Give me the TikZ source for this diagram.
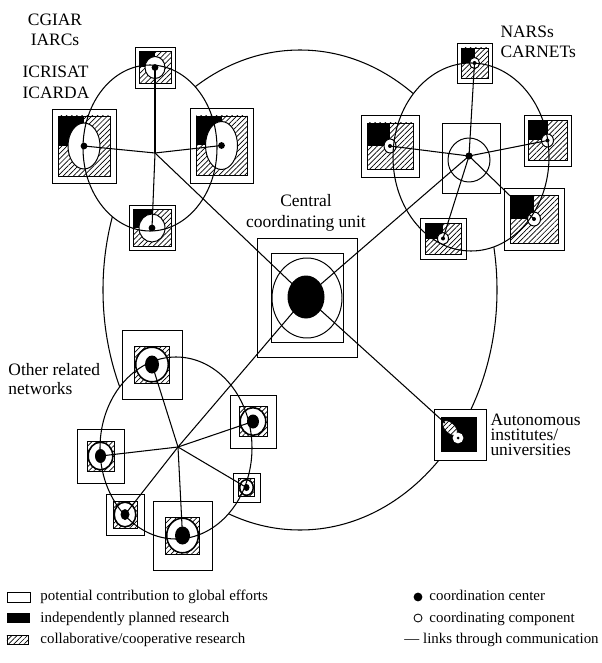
\documentclass[tikz,border=0pt]{standalone}
\usepackage{fontspec}
\setmainfont{Liberation Serif}
\usetikzlibrary{patterns.meta}
\tikzset{
  hatch/.style={draw, preaction={fill=white}, pattern={Lines[angle=45,distance=2.6pt,line width=0.5pt]}},
  unitbox/.style={draw, fill=white, line width=0.7pt},
  link/.style={line width=0.75pt},
  netring/.style={line width=0.75pt},
  lbl/.style={inner sep=0pt, font=\fontsize{12.4}{14.2}\selectfont},
  legtext/.style={inner sep=0pt, anchor=base west, font=\fontsize{10.6}{12}\selectfont},
}
\newcommand{\quadunit}[9]{%
  \begin{scope}[shift={(#2,#3)}]
    \draw[unitbox] (-#4,-#5) rectangle (#4,#5);
    \draw[hatch] (-#6,-#7) rectangle (#6,#7);
    \fill (-#6,-#7) rectangle (0,0);
    \draw[fill=white, line width=0.7pt] (0,0) ellipse [x radius=#8, y radius=#9];
    \coordinate (#1) at (0,0);
  \end{scope}}
\newcommand{\ringunit}[9]{%
  \begin{scope}[shift={(#2,#3)}]
    \draw[unitbox] (-#4,-#5) rectangle (#4,#5);
    \draw[hatch] (-#6,-#7) rectangle (#6,#7);
    \draw[fill=white, line width=1.1pt] (0,0) ellipse [x radius=#6-1.2, y radius=#7-1.2];
    \fill (0,0) ellipse [x radius=#8, y radius=#9];
    \coordinate (#1) at (0,0);
  \end{scope}}
\begin{document}
\begin{tikzpicture}[x=0.025cm, y=-0.025cm, line width=0.7pt]
  \useasboundingbox (0,0) rectangle (602,663);
  \draw[netring] (300,290) ellipse [x radius=197, y radius=240];
  \fill[white] (150,148) ellipse [x radius=67, y radius=83];
  \fill[white] (471,157) ellipse [x radius=78, y radius=94];
  \fill[white] (176,448) ellipse [x radius=76, y radius=91];
  \coordinate (gh) at (155,153);
  \coordinate (nh) at (469,156);
  \coordinate (oh) at (178,447);
  \quadunit{g1}{155}{67.5}{20}{20.5}{16}{16}{10}{11}
  \quadunit{g2}{84}{146}{32}{37}{26}{30}{16}{23}
  \quadunit{g3}{221.5}{145.5}{31.5}{37.5}{25.5}{29.5}{16}{24}
  \quadunit{g4}{152}{228}{23}{22.5}{19}{18.5}{13}{14}
  \quadunit{n1}{474.5}{63}{17.5}{20}{13.5}{15}{5}{5.5}
  \quadunit{n2}{390}{146}{29}{31}{23}{23}{6}{7}
  \quadunit{n3}{547.5}{140.5}{23.5}{25.5}{19.5}{20}{6}{6.5}
  \quadunit{n4}{534}{219}{30}{31}{24}{24}{6.5}{7}
  \quadunit{n5}{443}{238.5}{23}{20.5}{18}{15.5}{5.5}{6}
  \ringunit{o1}{152}{364.5}{30}{34.5}{17.5}{18.5}{7}{9}
  \ringunit{o2}{253}{421.5}{23}{26.5}{14}{15}{6}{7}
  \ringunit{o3}{100.5}{456}{23.5}{27}{13.5}{15}{5.5}{7}
  \ringunit{o4}{246.5}{487.5}{13.5}{14.5}{8}{9}{3}{3.5}
  \ringunit{o5}{125}{514.5}{19}{20.5}{12}{13.5}{4.5}{5.5}
  \ringunit{o6}{182.5}{535.5}{29.5}{34.5}{17}{18.5}{7.5}{9}
  \draw[unitbox] (257,238) rectangle (357,357);
  \draw (271,253) rectangle (343,342);
  \draw (307,298) ellipse [x radius=35, y radius=40];
  \coordinate (c) at (306,297);
  \draw[unitbox] (442,123) rectangle (500,193);
  \draw (469,160) ellipse [x radius=21, y radius=22];
  \draw[unitbox] (434,409) rectangle (486,460);
  \fill (441,417) rectangle (477,452);
  \begin{scope}[shift={(450,428)}, rotate=-45]
    \draw[hatch, line width=0.4pt] (0,0) ellipse [x radius=9, y radius=5];
  \end{scope}
  \draw[fill=white, line width=1.2pt, draw=white] (458,438) circle [radius=4.5];
  \coordinate (a) at (445,423);
  \draw[netring] (150,148) ellipse [x radius=67, y radius=83];
  \draw[netring] (471,157) ellipse [x radius=78, y radius=94];
  \draw[netring] (176,448) ellipse [x radius=76, y radius=91];
  \draw[link] (gh) -- (g1);
  \draw[link] (gh) -- (g2);
  \draw[link] (gh) -- (g3);
  \draw[link] (gh) -- (g4);
  \draw[link] (gh) -- (c);
  \draw[link] (nh) -- (n1);
  \draw[link] (nh) -- (n2);
  \draw[link] (nh) -- (n3);
  \draw[link] (nh) -- (n4);
  \draw[link] (nh) -- (n5);
  \draw[link] (nh) -- (c);
  \draw[link] (oh) -- (o1);
  \draw[link] (oh) -- (o2);
  \draw[link] (oh) -- (o3);
  \draw[link] (oh) -- (o4);
  \draw[link] (oh) -- (o5);
  \draw[link] (oh) -- (o6);
  \draw[link] (oh) -- (c);
  \draw[link] (c) -- (a);
  \foreach \u in {g1,g2,g3,g4} \fill (\u) circle [radius=3.4];
  \foreach \u in {n1,n2,n3,n4,n5} \fill (\u) circle [radius=2];
  \fill (nh) circle [radius=3.6];
  \fill (c) ellipse [x radius=18.5, y radius=21.5];
  \fill (458,438) circle [radius=1.5];
  \node[lbl, anchor=north, align=center] (cgiar) at (55,13) {CGIAR\\IARCs};
  \node[lbl, anchor=north, align=left, font=\fontsize{12.4}{15.6}\selectfont] (icri) at (56,65) {ICRISAT\\ICARDA};
  \node[lbl, anchor=north west, align=left] (nars) at (500,25) {NARSs\\CARNETs};
  \node[lbl, anchor=north, align=center, font=\fontsize{12.4}{15}\selectfont] (cu) at (306,194) {Central\\coordinating unit};
  \node[lbl, anchor=north west, align=left, font=\fontsize{12.4}{13.5}\selectfont] (orn) at (8,363) {Other related\\networks};
  \node[lbl, anchor=north west, align=left, font=\fontsize{12.4}{11}\selectfont] (aiu) at (490,413) {Autonomous\\institutes/\\universities};
  \node[draw, inner sep=0pt, minimum width=0.575cm, minimum height=0.25cm] (kpot) at (18.5,597) {};
  \node[fill, inner sep=0pt, minimum width=0.575cm, minimum height=0.25cm] (kind) at (18.5,618) {};
  \node[hatch, inner sep=0pt, minimum width=0.525cm, minimum height=0.225cm] (kcol) at (17.5,639.5) {};
  \node[legtext] (tpot) at (40,600) {potential contribution to global efforts};
  \node[legtext] (tind) at (40,622) {independently planned research};
  \node[legtext] (tcol) at (40,643) {collaborative/cooperative research};
  \node[circle, fill, inner sep=0pt, minimum size=0.22cm] (kcen) at (418,597) {};
  \node[circle, draw, inner sep=0pt, minimum size=0.2cm, line width=0.6pt] (kcmp) at (418,618) {};
  \node[legtext] (tcen) at (429,600) {coordination center};
  \node[legtext] (tcmp) at (429,622) {coordinating component};
  \node[legtext] (tlnk) at (404,643) {— links through communication};
\end{tikzpicture}
\end{document}
